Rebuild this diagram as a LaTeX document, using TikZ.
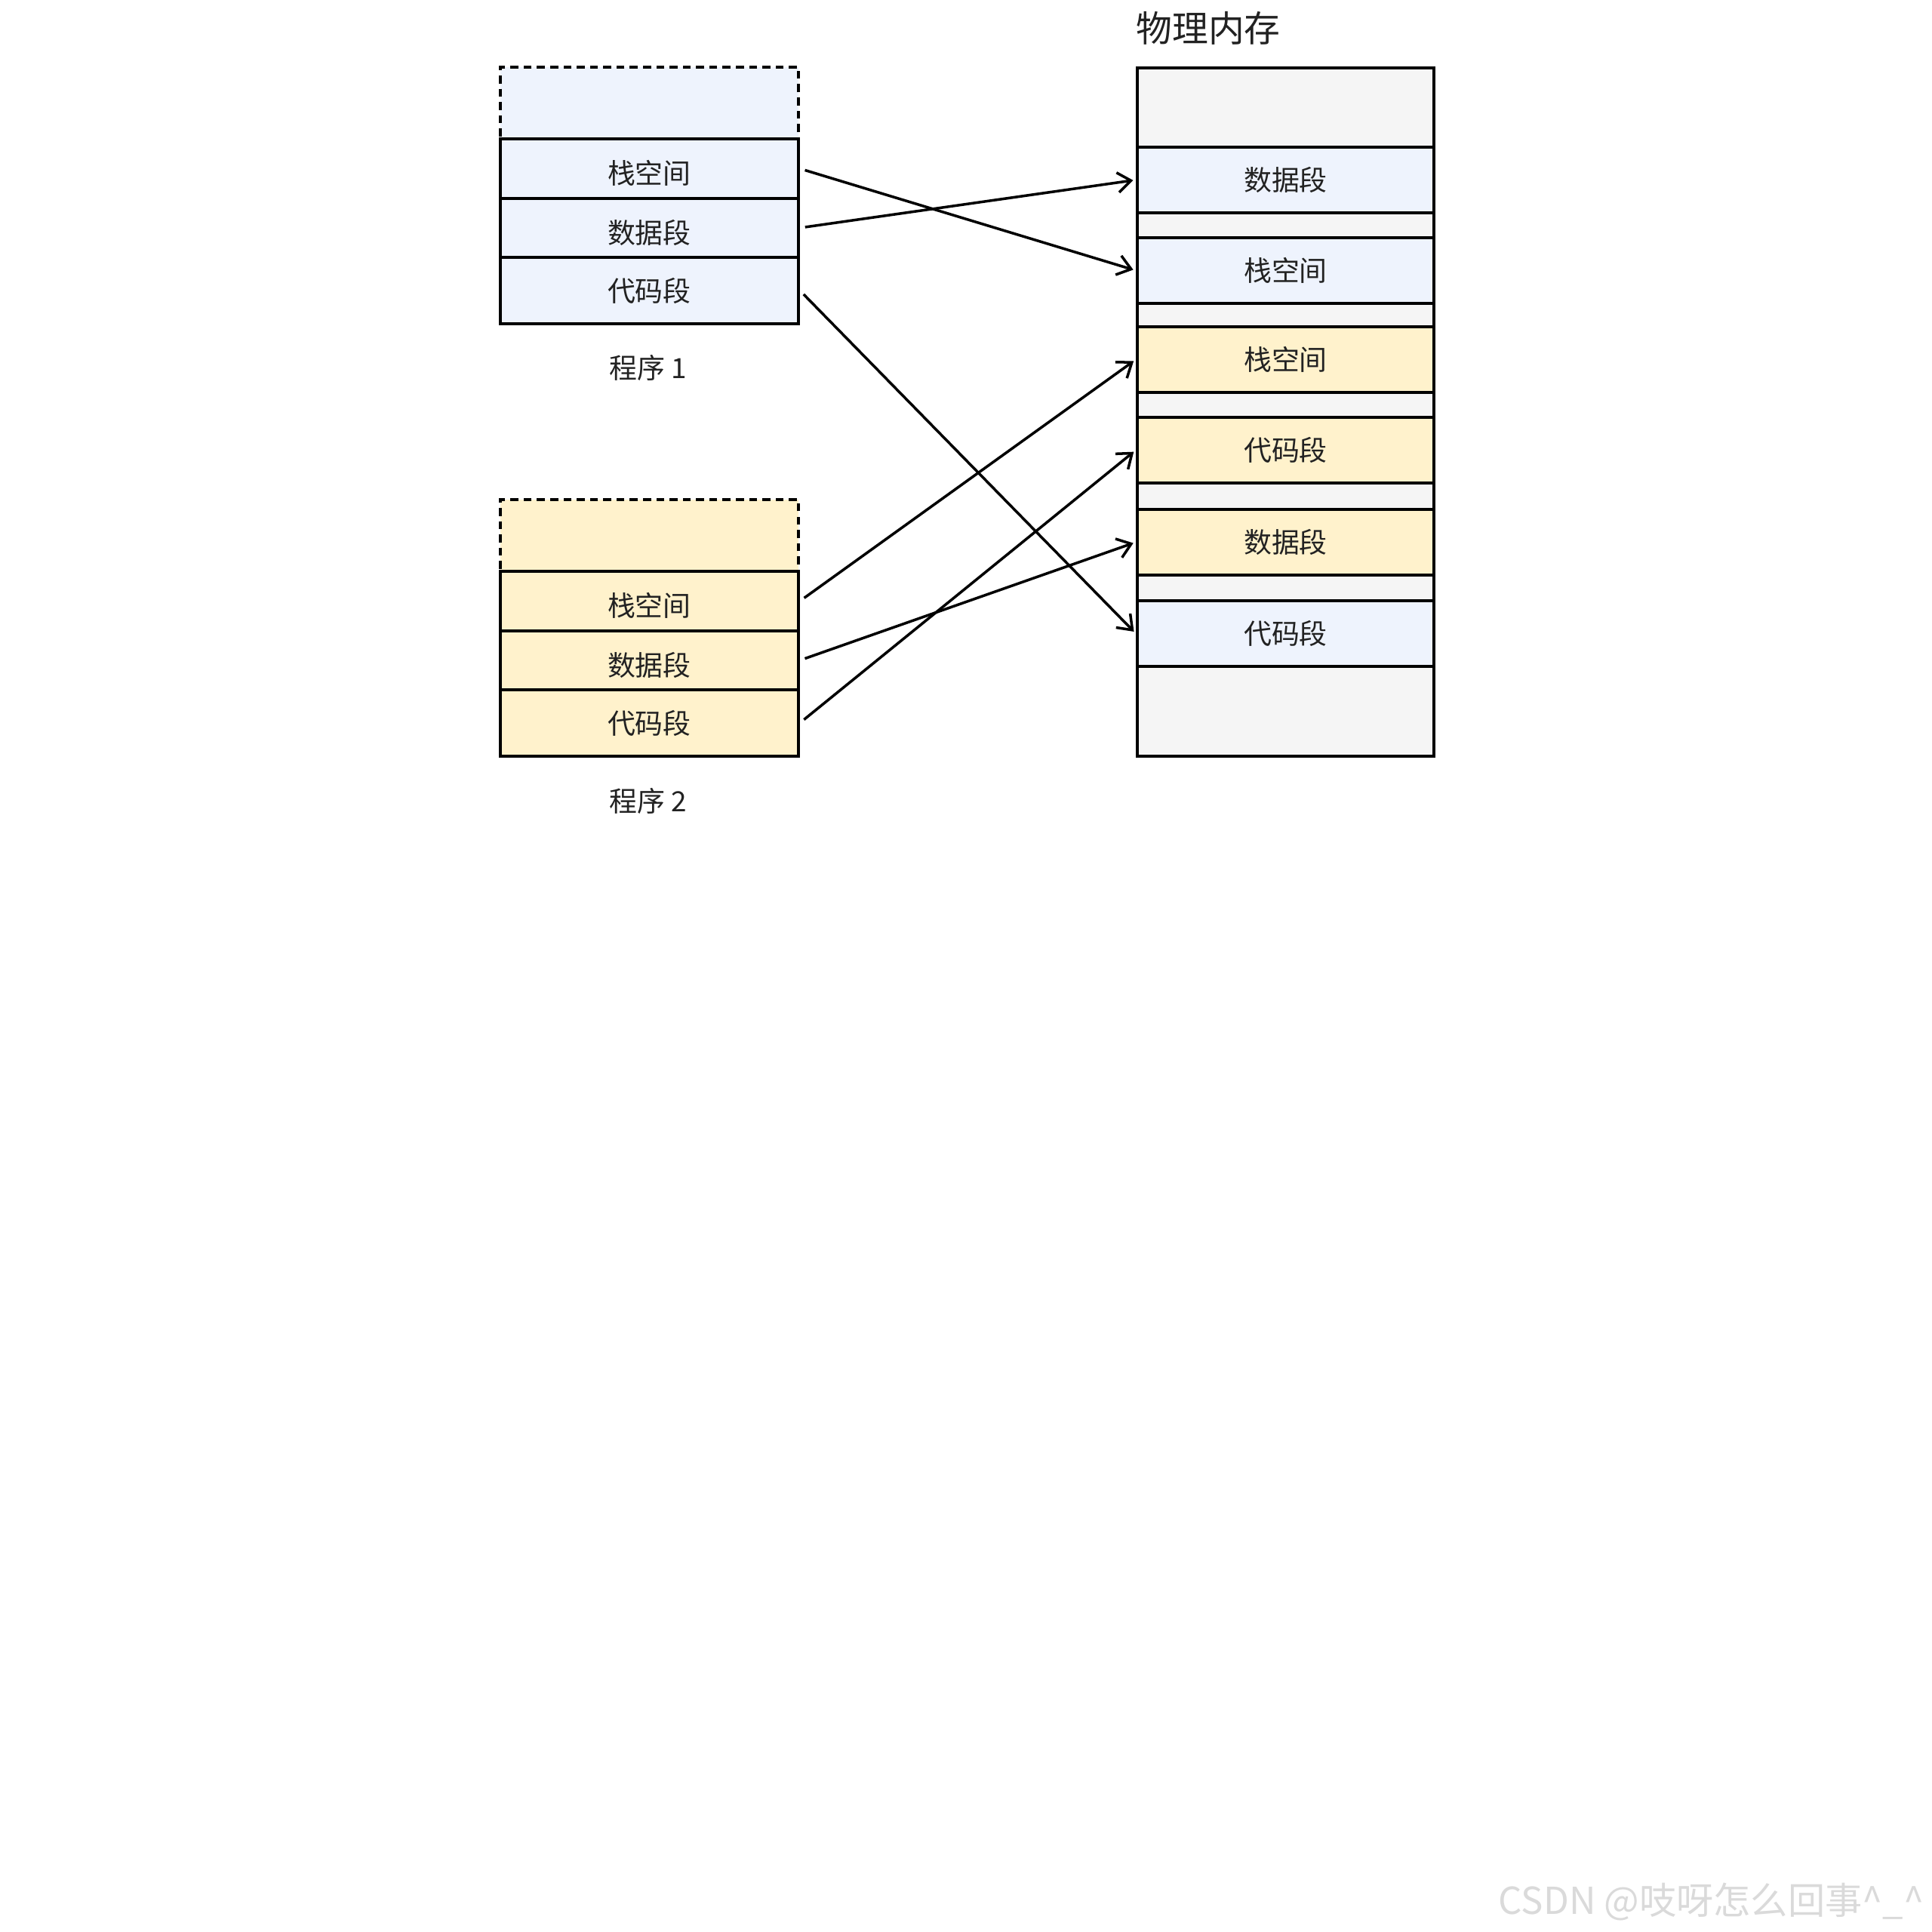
\documentclass[tikz,border=0pt]{standalone}
\usepackage{fontspec}
\setmainfont{Noto Sans CJK SC}
\usetikzlibrary{arrows.meta}

\definecolor{segblue}{HTML}{EEF3FD}
\definecolor{segyellow}{HTML}{FFF2CC}
\definecolor{memgray}{HTML}{F5F5F5}
\definecolor{txtdark}{HTML}{222222}
\definecolor{markgray}{HTML}{DADADA}

\tikzset{
  seg/.style={draw, line width=1.1pt, minimum width=3.95cm, minimum height=0.87cm,
    inner sep=0pt, anchor=north west, text=txtdark, font=\fontsize{10.5}{12}\selectfont},
  lowtext/.style={text height=1.4em, text depth=0.25em},
  memseg/.style={seg, minimum width=3.93cm},
  topgap/.style={seg, dash pattern=on 3pt off 2pt},
  link/.style={line width=1pt, -{Straight Barb[length=5pt,width=7.5pt]},
    shorten <=2pt, shorten >=1pt},
  caption/.style={text=txtdark, font=\fontsize{10.5}{12}\selectfont}
}

\begin{document}
\begin{tikzpicture}

  \useasboundingbox[fill=white] (0,0) rectangle (25.6,-25.6);

  % program 1
  \node[topgap, fill=segblue, minimum height=0.95cm] (p1top) at (6.61,-0.87) {};
  \node[seg, lowtext, fill=segblue, minimum height=0.79cm] (p1stack) at (6.61,-1.82) {栈空间};
  \node[seg, lowtext, fill=segblue, minimum height=0.78cm] (p1data) at (6.61,-2.61) {数据段};
  \node[seg, fill=segblue, minimum height=0.88cm] (p1code) at (6.61,-3.39) {代码段};
  \node[caption] (p1name) at (8.585,-4.87) {程序 1};

  % program 2
  \node[topgap, fill=segyellow, minimum height=0.95cm] (p2top) at (6.61,-6.60) {};
  \node[seg, lowtext, fill=segyellow, minimum height=0.79cm] (p2stack) at (6.61,-7.55) {栈空间};
  \node[seg, lowtext, fill=segyellow, minimum height=0.78cm] (p2data) at (6.61,-8.34) {数据段};
  \node[seg, fill=segyellow, minimum height=0.88cm] (p2code) at (6.61,-9.12) {代码段};
  \node[caption] (p2name) at (8.585,-10.61) {程序 2};

  % physical memory
  \node[anchor=west, text=txtdark, font=\fontsize{13.6}{16}\selectfont] (memtitle) at (14.93,-0.37) {物理内存};
  \node[memseg, fill=memgray, minimum height=9.12cm] (mem) at (15.05,-0.88) {};
  \node[memseg, fill=segblue] (m1data) at (15.05,-1.93) {数据段};
  \node[memseg, fill=segblue] (m1stack) at (15.05,-3.13) {栈空间};
  \node[memseg, fill=segyellow] (m2stack) at (15.05,-4.31) {栈空间};
  \node[memseg, fill=segyellow] (m2code) at (15.05,-5.51) {代码段};
  \node[memseg, fill=segyellow] (m2data) at (15.05,-6.73) {数据段};
  \node[memseg, fill=segblue] (m1code) at (15.05,-7.94) {代码段};

  % mappings
  \draw[link] (p1stack.east) -- (m1stack.west);
  \draw[link] (p1data.east) -- (m1data.west);
  \draw[link] (p1code.east) -- (m1code.west);
  \draw[link] (p2stack.east) -- (m2stack.west);
  \draw[link] (p2data.east) -- (m2data.west);
  \draw[link] (p2code.east) -- (m2code.west);

  % watermark
  \node[anchor=east, text=markgray, font=\fontsize{14}{16}\selectfont] (mark) at (25.62,-25.20)
    {CSDN @吱呀怎么回事\textasciicircum\_\textasciicircum};

\end{tikzpicture}
\end{document}
